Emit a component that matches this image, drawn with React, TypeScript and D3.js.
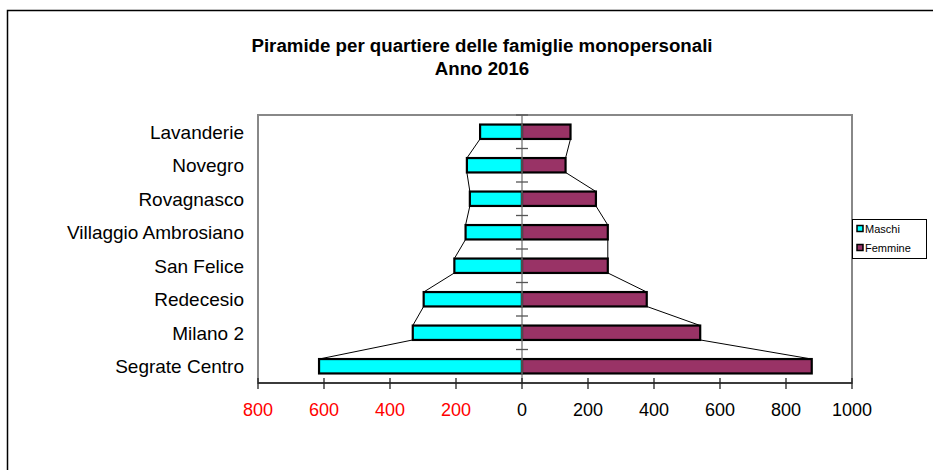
import React, { useEffect, useRef } from 'react';
import * as d3 from 'd3';

const categories = ['Lavanderie', 'Novegro', 'Rovagnasco', 'Villaggio Ambrosiano', 'San Felice', 'Redecesio', 'Milano 2', 'Segrate Centro'];
const maschi = [127, 167, 158, 171, 205, 298, 331, 615];
const femmine = [147, 132, 224, 260, 260, 378, 540, 878];
const xTicks = [-800, -600, -400, -200, 0, 200, 400, 600, 800, 1000];
const seriesNames = ['Maschi', 'Femmine'];
const seriesColors = ['#00FFFF', '#993366'];

const width = 933;
const height = 470;
const font = '"Liberation Sans", Arial, sans-serif';

export default function App() {
  const ref = useRef<SVGSVGElement>(null);

  useEffect(() => {
    const svg = d3.select(ref.current);
    svg.selectAll('*').remove();

    const left = 258, right = 852, top = 115, bottom = 383;
    const x = d3.scaleLinear().domain([-800, 1000]).range([left, right]);
    const y = d3.scaleBand<string>().domain(categories).range([top, bottom])
      .paddingInner(0.57).paddingOuter(0.285);
    const step = y.step();

    // outer chart frame
    svg.append('rect')
      .attr('x', 7.5).attr('y', 10.5).attr('width', 1000).attr('height', 1000)
      .attr('fill', 'white').attr('stroke', 'black').attr('stroke-width', 1.5);

    // title
    const title = svg.append('text')
      .attr('text-anchor', 'middle')
      .attr('font-family', font).attr('font-weight', 'bold').attr('font-size', 18.7);
    title.append('tspan').attr('x', 482).attr('y', 52).text('Piramide per quartiere delle famiglie monopersonali');
    title.append('tspan').attr('x', 482).attr('y', 75).text('Anno 2016');

    // plot area
    svg.append('rect')
      .attr('x', left).attr('y', top).attr('width', right - left).attr('height', bottom - top)
      .attr('fill', 'white').attr('stroke', '#888').attr('stroke-width', 2);

    // series lines between bars
    const g = svg.append('g');
    [maschi.map(v => -v), femmine].forEach(vals => {
      for (let i = 0; i < vals.length - 1; i++) {
        g.append('line')
          .attr('x1', x(vals[i])).attr('y1', y(categories[i])! + y.bandwidth())
          .attr('x2', x(vals[i + 1])).attr('y2', y(categories[i + 1])!)
          .attr('stroke', 'black').attr('stroke-width', 1);
      }
    });

    // bars
    [maschi.map(v => -v), femmine].forEach((vals, s) => {
      g.selectAll(null)
        .data(vals)
        .enter()
        .append('rect')
        .attr('x', d => x(Math.min(0, d)))
        .attr('y', (d, i) => y(categories[i])!)
        .attr('width', d => Math.abs(x(d) - x(0)))
        .attr('height', y.bandwidth())
        .attr('fill', seriesColors[s])
        .attr('stroke', 'black').attr('stroke-width', 2.2);
    });

    // zero axis with category ticks
    svg.append('line')
      .attr('x1', x(0)).attr('x2', x(0)).attr('y1', top).attr('y2', bottom)
      .attr('stroke', '#777').attr('stroke-width', 1.3);
    d3.range(categories.length).forEach(i => {
      svg.append('line')
        .attr('x1', x(0) - 6).attr('x2', x(0) + 6)
        .attr('y1', top + i * step).attr('y2', top + i * step)
        .attr('stroke', '#555').attr('stroke-width', 1.3);
    });

    // category labels
    svg.append('g').selectAll('text')
      .data(categories)
      .enter()
      .append('text')
      .attr('x', 244)
      .attr('y', d => y(d)! + y.bandwidth() / 2)
      .attr('dy', '0.36em')
      .attr('text-anchor', 'end')
      .attr('font-family', font).attr('font-size', 19)
      .text(d => d);

    // x axis
    svg.append('line')
      .attr('x1', left).attr('x2', right).attr('y1', bottom).attr('y2', bottom)
      .attr('stroke', '#222').attr('stroke-width', 1.5);
    xTicks.forEach(t => {
      svg.append('line')
        .attr('x1', x(t)).attr('x2', x(t)).attr('y1', bottom - 5).attr('y2', bottom + 6)
        .attr('stroke', '#222').attr('stroke-width', 1.3);
      svg.append('text')
        .attr('x', x(t)).attr('y', 410).attr('dy', '0.36em')
        .attr('text-anchor', 'middle')
        .attr('font-family', font).attr('font-size', 18)
        .attr('fill', t < 0 ? 'red' : 'black')
        .text(Math.abs(t));
    });

    // legend
    const lg = svg.append('g');
    lg.append('rect')
      .attr('x', 852.5).attr('y', 219.5).attr('width', 74).attr('height', 39)
      .attr('fill', 'white').attr('stroke', 'black').attr('stroke-width', 1);
    seriesNames.forEach((name, i) => {
      const cy = 229 + i * 19;
      lg.append('rect')
        .attr('x', 857).attr('y', cy - 3.5).attr('width', 6).attr('height', 6)
        .attr('fill', seriesColors[i]).attr('stroke', 'black').attr('stroke-width', 1.5);
      lg.append('text')
        .attr('x', 865).attr('y', cy).attr('dy', '0.36em')
        .attr('font-family', font).attr('font-size', 11)
        .text(name);
    });
  }, []);

  return (
    <svg ref={ref} width={width} height={height}
      style={{ position: 'absolute', left: 0, top: 0, background: 'white' }} />
  );
}
